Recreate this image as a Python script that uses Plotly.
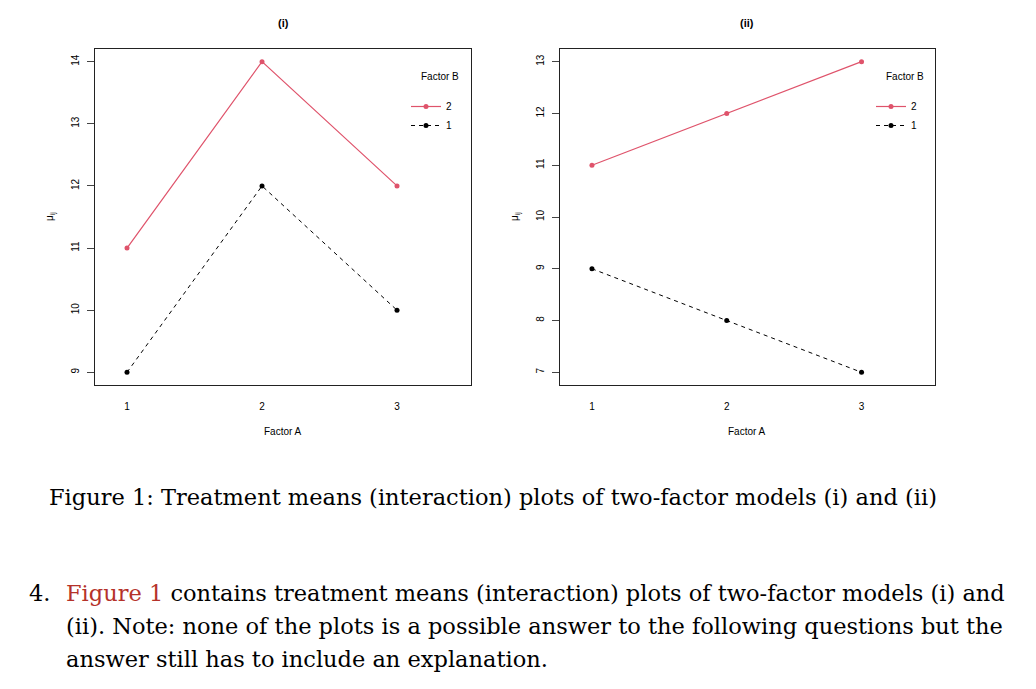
import plotly.graph_objects as go

# ── data ──────────────────────────────────────────────────────────────────────
factor_a = [1, 2, 3]
panel_titles = ["(i)", "(ii)"]
# panel (i)
i_b2 = [11, 14, 12]
i_b1 = [9, 12, 10]
# panel (ii)
ii_b2 = [11, 12, 13]
ii_b1 = [9, 8, 7]

y_ticks_i = [9, 10, 11, 12, 13, 14]
y_ticks_ii = [7, 8, 9, 10, 11, 12, 13]

RED = "#DF536B"
OFF = 8                      # page body margin
W, H = 1036 - 2 * OFF, 689 - 2 * OFF


def px(x):
    return (x - OFF) / W


def py(y):
    return 1 - (y - OFF) / H


fig = go.Figure()

panels = [
    ("x", "y", i_b2, i_b1, "legend", [8.796, 14.204], y_ticks_i),
    ("x2", "y2", ii_b2, ii_b1, "legend2", [6.755, 13.245], y_ticks_ii),
]
for xa, ya, b2, b1, leg, yr, yt in panels:
    fig.add_trace(go.Scatter(
        x=factor_a, y=b2, mode="lines+markers", name="2",
        line=dict(color=RED, width=1.2), marker=dict(color=RED, size=5),
        xaxis=xa, yaxis=ya, legend=leg,
    ))
    fig.add_trace(go.Scatter(
        x=factor_a, y=b1, mode="lines+markers", name="1",
        line=dict(color="black", width=1, dash="4px,4px"),
        marker=dict(color="black", size=5),
        xaxis=xa, yaxis=ya, legend=leg,
    ))

axis_common = dict(showline=True, linecolor="#222", linewidth=1, mirror=True,
                   showgrid=False, zeroline=False,
                   tickfont=dict(size=10, color="black"))
xdom = [[px(95), px(471)], [px(560), px(935)]]
ydom = [py(385), py(49)]

fig.update_layout(
    xaxis=dict(domain=xdom[0], range=[0.763, 3.548], tickvals=factor_a,
               ticks="", ticklabelstandoff=12, **axis_common),
    yaxis=dict(domain=ydom, range=panels[0][5], tickvals=y_ticks_i, ticks="outside",
               ticklen=7, tickangle=-90, ticklabelstandoff=4, anchor="x", **axis_common),
    xaxis2=dict(domain=xdom[1], range=[0.763, 3.545], tickvals=factor_a, anchor="y2",
                ticks="", ticklabelstandoff=12, **axis_common),
    yaxis2=dict(domain=ydom, range=panels[1][5], tickvals=y_ticks_ii, ticks="outside",
                ticklen=7, tickangle=-90, ticklabelstandoff=4, anchor="x2", **axis_common),
)

leg_style = dict(
    font=dict(size=10), bgcolor="rgba(0,0,0,0)", itemwidth=30,
    xanchor="left", yanchor="top",
)
fig.update_layout(
    legend=dict(x=px(406), y=py(92), **leg_style),
    legend2=dict(x=px(871), y=py(92), **leg_style),
)

annos = []
for t, cx in zip(panel_titles, [283, 747]):
    annos.append(dict(x=px(cx), y=py(23), text=f"<b>{t}</b>", font=dict(size=11)))
    annos.append(dict(x=px(cx), y=py(431), text="Factor A", font=dict(size=10)))
for cx in [440, 905]:
    annos.append(dict(x=px(cx), y=py(77), text="Factor B", font=dict(size=10)))
for cx in [50, 515]:
    annos.append(dict(x=px(cx), y=py(217), text="μ<sub>ij</sub>",
                      textangle=-90, font=dict(size=10)))

serif = dict(family="DejaVu Serif", size=22.5, color="black")
annos.append(dict(x=px(47), y=py(497), xanchor="left", font=serif,
                  text="Figure 1: Treatment means (interaction) plots of two-factor models (i) and (ii)"))
annos.append(dict(x=px(27), y=py(593), xanchor="left", text="4.", font=serif))
para = [
    "<span style='color:#B5322A'>Figure 1</span> contains treatment means (interaction) plots of two-factor models (i) and",
    "(ii). Note: none of the plots is a possible answer to the following questions but the",
    "answer still has to include an explanation.",
]
for k, line in enumerate(para):
    annos.append(dict(x=px(64), y=py(593 + 33 * k), xanchor="left", text=line, font=serif))

for a in annos:
    a.setdefault("xanchor", "center")
    a.update(xref="paper", yref="paper", yanchor="middle", showarrow=False)

fig.update_layout(
    annotations=annos,
    width=W, height=H, margin=dict(l=0, r=0, t=0, b=0),
    paper_bgcolor="white", plot_bgcolor="white",
    font=dict(family="Liberation Sans", color="black"),
)

fig.write_html("out.html")
